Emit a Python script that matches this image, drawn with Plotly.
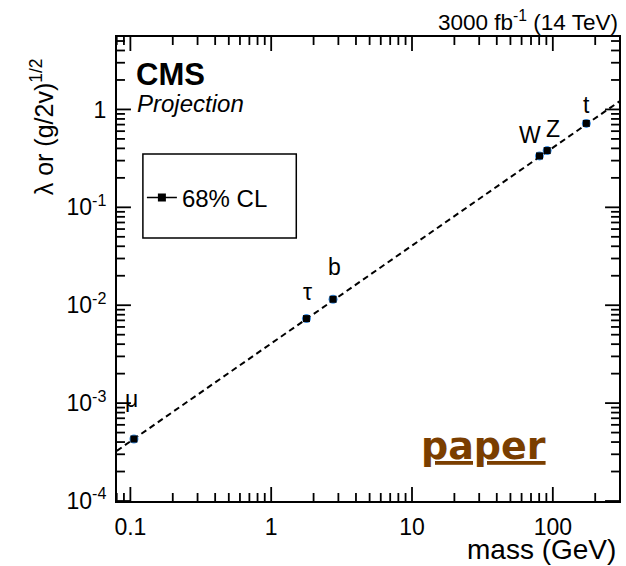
import numpy as np
import plotly.graph_objects as go

# ---- data ----
particles = ["μ", "τ", "b", "W", "Z", "t"]
mass_gev = [0.106, 1.78, 2.75, 80.4, 91.2, 173.0]
coupling = [0.00043, 0.0073, 0.0115, 0.335, 0.38, 0.72]

# SM expectation line (dashed)
line_mass = [0.08, 300.0]
line_coupling = [0.000325, 1.22]

x_tickvals = [0.1, 1, 10, 100]
x_ticktext = ["0.1", "1", "10", "100"]
y_tickvals = [1e-4, 1e-3, 1e-2, 1e-1, 1]
y_ticktext = ["10<sup>-4</sup>", "10<sup>-3</sup>", "10<sup>-2</sup>", "10<sup>-1</sup>", "1"]

x_minor = [0.08, 0.09] + [m * 10.0 ** e for e in (-1, 0, 1) for m in range(2, 10)] + [200]
y_minor = [m * 10.0 ** e for e in (-4, -3, -2, -1, 0) for m in range(2, 10)]

FONT = "Liberation Sans, Arial, Helvetica, sans-serif"
X_RANGE = [-1.095, 2.47]
Y_RANGE = [-4.0, 0.74]

# ---- layout geometry (pixels) ----
W, H = 626, 566
L, R, T, B = 117, 5, 37, 65
PW, PH = W - L - R, H - T - B
MAJOR_LEN, MINOR_LEN = 14, 8
X_PX_PER_DEC = PW / (X_RANGE[1] - X_RANGE[0])
Y_PX_PER_DEC = PH / (Y_RANGE[1] - Y_RANGE[0])


def px(xp):
    return (xp - L) / PW


def py(yp):
    return (H - B - yp) / PH


fig = go.Figure()

fig.add_trace(go.Scatter(
    x=line_mass, y=line_coupling, mode="lines",
    line=dict(color="black", width=2, dash="6px,4px"),
    showlegend=False, hoverinfo="skip"))

fig.add_trace(go.Scatter(
    x=mass_gev, y=coupling, mode="markers",
    marker=dict(symbol="circle", size=9, color="#3a8fe6"),
    showlegend=False, hoverinfo="skip"))

fig.add_trace(go.Scatter(
    x=mass_gev, y=coupling, mode="markers",
    marker=dict(symbol="square", size=7, color="black"),
    showlegend=False))

# legend entry
fig.add_trace(go.Scatter(
    x=[None], y=[None], mode="lines+markers", name="68% CL",
    line=dict(color="black", width=1.5),
    marker=dict(symbol="square", size=8, color="black")))

# ---- inside tick marks on all four sides, built from the tick value lists ----
tx, ty = [], []
y_lo, y_hi = 10 ** Y_RANGE[0], 10 ** Y_RANGE[1]
x_lo, x_hi = 10 ** X_RANGE[0], 10 ** X_RANGE[1]
for vals, ln in ((x_tickvals, MAJOR_LEN), (x_minor, MINOR_LEN)):
    dy = 10 ** (ln / Y_PX_PER_DEC)
    for v in vals:
        tx += [v, v, None, v, v, None]
        ty += [y_lo, y_lo * dy, None, y_hi, y_hi / dy, None]
for vals, ln in ((y_tickvals, MAJOR_LEN), (y_minor, MINOR_LEN)):
    dx = 10 ** (ln / X_PX_PER_DEC)
    for v in vals:
        tx += [x_lo, x_lo * dx, None, x_hi, x_hi / dx, None]
        ty += [v, v, None, v, v, None]
fig.add_trace(go.Scatter(
    x=tx, y=ty, mode="lines", line=dict(color="black", width=1.8, simplify=False),
    showlegend=False, hoverinfo="skip", connectgaps=False))

fig.update_layout(
    xaxis=dict(type="log", range=X_RANGE, showgrid=False, zeroline=False,
               showline=True, linecolor="black", linewidth=2, mirror=True,
               ticks="", tickmode="array", tickvals=x_tickvals, ticktext=x_ticktext,
               ticklabelstandoff=4,
               tickfont=dict(family=FONT, size=23, color="black")),
    yaxis=dict(type="log", range=Y_RANGE, showgrid=False, zeroline=False,
               showline=True, linecolor="black", linewidth=2, mirror=True,
               ticks="", tickmode="array", tickvals=y_tickvals, ticktext=y_ticktext,
               ticklabelstandoff=4,
               tickfont=dict(family=FONT, size=23, color="black")),
)

# legend frame
shapes = [dict(type="rect", xref="paper", yref="paper",
               x0=px(143), x1=px(297), y0=py(238), y1=py(154),
               line=dict(color="black", width=1.5), fillcolor="rgba(0,0,0,0)")]

# particle labels
label_shift = {"μ": (-2, 40), "τ": (1, 27), "b": (1, 32), "W": (-9, 21), "Z": (6, 22), "t": (0, 18)}
annotations = []
for name, m, c in zip(particles, mass_gev, coupling):
    sx, sy = label_shift[name]
    annotations.append(dict(
        x=np.log10(m), y=np.log10(c), xref="x", yref="y", text=name,
        showarrow=False, xshift=sx, yshift=sy,
        font=dict(family=FONT, size=23, color="black")))

annotations += [
    dict(text="<b>CMS</b>", x=px(134), y=py(74), xref="paper", yref="paper",
         xanchor="left", yanchor="middle", showarrow=False,
         font=dict(family=FONT, size=31, color="black")),
    dict(text="<i>Projection</i>", x=px(135), y=py(104), xref="paper", yref="paper",
         xanchor="left", yanchor="middle", showarrow=False,
         font=dict(family=FONT, size=24, color="black")),
    dict(text="3000 fb<sup>-1</sup> (14 TeV)", x=px(622), y=py(21), xref="paper", yref="paper",
         xanchor="right", yanchor="middle", showarrow=False,
         font=dict(family=FONT, size=22.5, color="black")),
    dict(text="mass (GeV)", x=px(620), y=py(549), xref="paper", yref="paper",
         xanchor="right", yanchor="middle", showarrow=False,
         font=dict(family=FONT, size=28, color="black")),
    dict(text="λ or (g/2v)<sup>1/2</sup>", x=px(42), y=py(127), xref="paper", yref="paper",
         xanchor="center", yanchor="middle", showarrow=False, textangle=-90,
         font=dict(family=FONT, size=25, color="black")),
    dict(text="<u>paper</u>", x=px(485), y=py(446), xref="paper", yref="paper",
         xanchor="center", yanchor="middle", showarrow=False,
         font=dict(family="DejaVu Sans, sans-serif", size=38, color="#7a3e00", weight="bold")),
]

fig.update_layout(
    width=W, height=H,
    margin=dict(l=L, r=R, t=T, b=B, pad=0),
    paper_bgcolor="white", plot_bgcolor="white",
    annotations=annotations,
    shapes=shapes,
    legend=dict(x=px(142), y=py(198), xanchor="left", yanchor="middle",
                bgcolor="rgba(0,0,0,0)", borderwidth=0,
                font=dict(family=FONT, size=24, color="black")),
    showlegend=True,
)

fig.write_html("out.html", config={"displayModeBar": False})
